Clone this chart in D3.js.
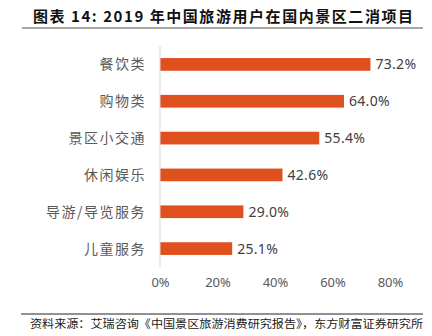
<!DOCTYPE html>
<html>
<head>
<meta charset="utf-8">
<script src="https://cdn.jsdelivr.net/npm/d3@7"></script>
<style>
  html, body { margin: 0; padding: 0; background: #fff; }
  svg { display: block; }
</style>
</head>
<body>
<svg id="chart" width="432" height="336"></svg>
<script>
const categories = ["餐饮类", "购物类", "景区小交通", "休闲娱乐", "导游/导览服务", "儿童服务"];
const values = [73.2, 64.0, 55.4, 42.6, 29.0, 25.1];
const tickValues = [0, 20, 40, 60, 80];
const titleText = "图表 14: 2019 年中国旅游用户在国内景区二消项目";
const sourceText = "资料来源：艾瑞咨询《中国景区旅游消费研究报告》，东方财富证券研究所";

const svg = d3.select("#chart");
const cjk = "'Noto Sans CJK SC', 'Noto Sans', sans-serif";

// Title
svg.append("text")
  .attr("x", 33).attr("y", 22)
  .attr("font-family", cjk).attr("font-weight", "bold")
  .attr("font-size", 15).attr("fill", "#111")
  .attr("textLength", 380).attr("lengthAdjust", "spacing")
  .text(titleText);
svg.append("line")
  .attr("x1", 22).attr("x2", 423).attr("y1", 28).attr("y2", 28)
  .attr("stroke", "#8a8a8a").attr("stroke-width", 1.5);

// Scales
const x = d3.scaleLinear().domain([0, 80]).range([160, 390]);
const y = d3.scaleBand().domain(categories).range([46, 267]).paddingInner(0.655).paddingOuter(0.3275);

// Bars
svg.append("g").selectAll("rect")
  .data(values)
  .join("rect")
  .attr("x", x(0))
  .attr("y", (d, i) => y(categories[i]))
  .attr("width", d => x(d) - x(0))
  .attr("height", y.bandwidth())
  .attr("fill", "#E0501F");

// Vertical axis line
svg.append("line")
  .attr("x1", x(0)).attr("x2", x(0)).attr("y1", 46).attr("y2", 267)
  .attr("stroke", "#d9d9d9").attr("stroke-width", 1);

// Category labels
svg.append("g").selectAll("text")
  .data(categories)
  .join("text")
  .attr("x", 146)
  .attr("y", d => y(d) + y.bandwidth() / 2)
  .attr("dy", "0.36em")
  .attr("text-anchor", "end")
  .attr("font-family", cjk)
  .attr("font-size", 14)
  .attr("letter-spacing", 1.5)
  .attr("fill", "#595959")
  .text(d => d);

// Value labels
svg.append("g").selectAll("text")
  .data(values)
  .join("text")
  .attr("x", d => x(d) + 5)
  .attr("y", (d, i) => y(categories[i]) + y.bandwidth() / 2)
  .attr("dy", "0.36em")
  .attr("font-family", "'Noto Sans', sans-serif")
  .attr("font-size", 14)
  .attr("letter-spacing", 0.3)
  .attr("fill", "#404040")
  .text(d => d3.format(".1f")(d) + "%");

// X axis tick labels
const xAxis = d3.axisBottom(x).tickValues(tickValues).tickSize(0).tickPadding(0).tickFormat(d => d + "%");
const gx = svg.append("g").attr("transform", "translate(0,278)").call(xAxis);
gx.select(".domain").remove();
gx.selectAll("text")
  .attr("font-family", "'Noto Sans', sans-serif")
  .attr("font-size", 13)
  .attr("fill", "#595959")
  .attr("dy", "0.71em");

// Footer
svg.append("line")
  .attr("x1", 21).attr("x2", 423).attr("y1", 314).attr("y2", 314)
  .attr("stroke", "#222").attr("stroke-width", 1);
svg.append("text")
  .attr("x", 30).attr("y", 328)
  .attr("font-family", cjk).attr("font-size", 11.5).attr("fill", "#222")
  .attr("textLength", 393).attr("lengthAdjust", "spacingAndGlyphs")
  .text(sourceText);
</script>
</body>
</html>
